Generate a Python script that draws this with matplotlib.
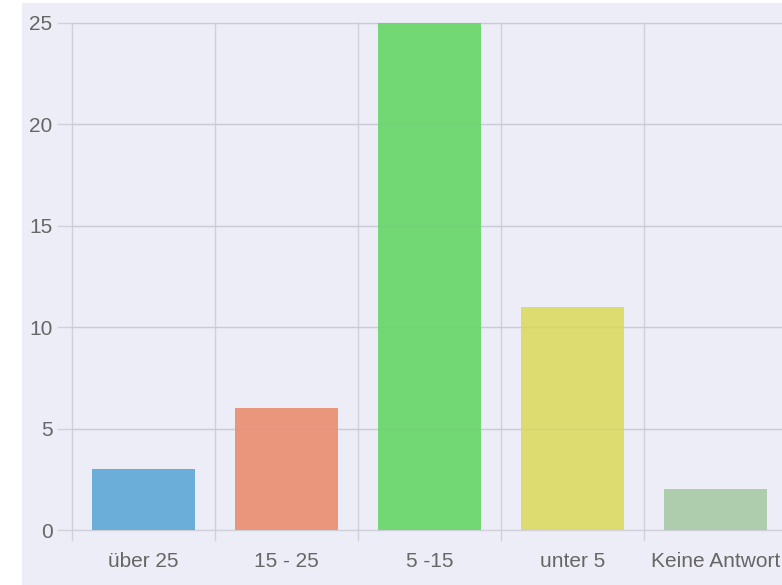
import matplotlib
matplotlib.use("Agg")
import matplotlib.pyplot as plt
from matplotlib.patches import Rectangle

categories = ["über 25", "15 - 25", "5 -15", "unter 5", "Keine Antwort"]
values = [3, 6, 25, 11, 2]
colors = ["#6aaed9", "#e9967c", "#72d874", "#dcdc70", "#aecdac"]
yticks = [0, 5, 10, 15, 20, 25]

W, H = 782, 585
fig = plt.figure(figsize=(W / 100, H / 100), dpi=100, facecolor="white")
fig.add_artist(Rectangle((22 / W, 0), 1, 1 - 3 / H, transform=fig.transFigure,
                         facecolor="#ecedf7", edgecolor="none", zorder=-10))

left, top, bottom = 72, 23, 530
cat_w = 143
ax = fig.add_axes([left / W, (H - bottom) / H, cat_w * len(categories) / W, (bottom - top) / H], zorder=1)
ax.set_facecolor("none")

x = list(range(len(categories)))
ax.bar(x, values, width=0.72, color=colors, zorder=3, linewidth=0)
ax.set_xlim(-0.5, len(categories) - 0.5)
ax.set_ylim(0, 25)

grid_c = "#d0d0db"
for b in range(len(categories) + 1):
    ax.axvline(b - 0.5, color=grid_c, lw=1, zorder=1, clip_on=False,
               ymin=-10 / (bottom - top), ymax=1)
for t in yticks:
    ax.axhline(t, color=grid_c, lw=1, zorder=1, clip_on=False,
               xmin=-14 / (cat_w * len(categories)), xmax=1)
    ax.axhline(t, color="#8888a0", lw=1, zorder=4, alpha=0.08)

for s in ax.spines.values():
    s.set_visible(False)
ax.set_yticks(yticks)
ax.set_xticks(x)
ax.set_xticklabels(categories)
ax.tick_params(axis="both", length=0, colors="#666666", labelsize=15)
ax.tick_params(axis="y", pad=14)
ax.tick_params(axis="x", pad=16)
for lab in ax.get_xticklabels() + ax.get_yticklabels():
    lab.set_family(["Liberation Sans", "DejaVu Sans"])

fig.savefig("out.png", dpi=100, facecolor="white")
